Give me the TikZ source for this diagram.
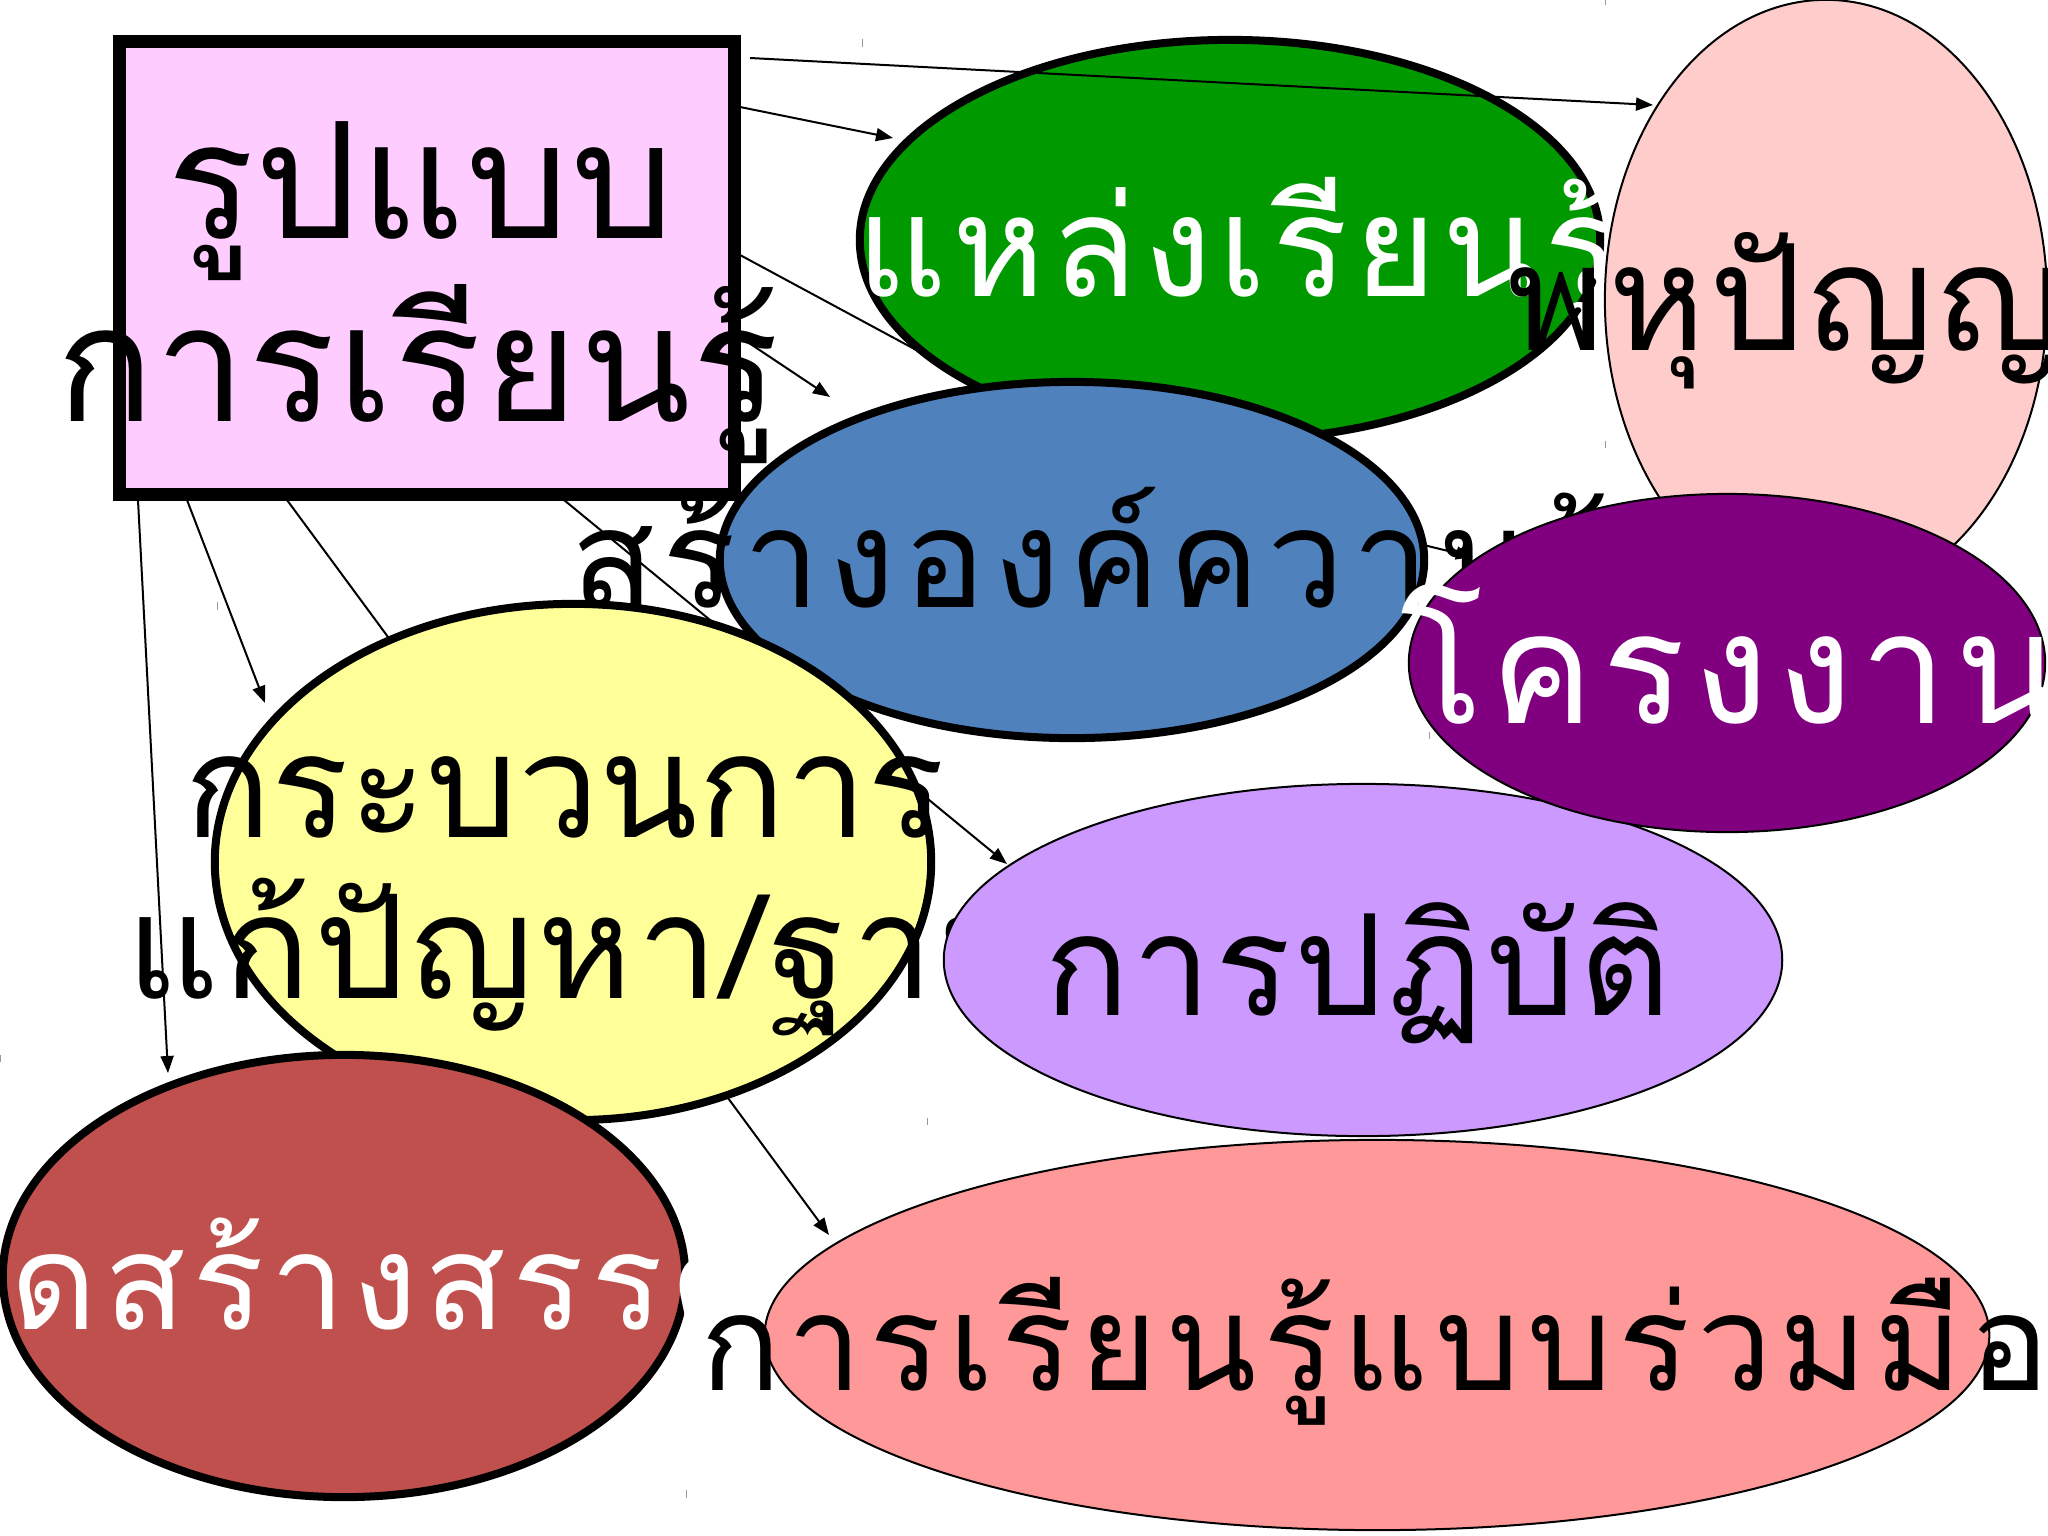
\documentclass[tikz,border=0pt]{standalone}
\usepackage{fontspec}
\usetikzlibrary{shapes.geometric,arrows.meta}
\newfontfamily\thai[Script=Thai]{Loma}
\newcommand\TF[2]{\thai\addfontfeatures{LetterSpace=#2}\fontsize{#1pt}{#1pt}\selectfont}
\definecolor{cRect}{HTML}{FFCCFF}
\definecolor{cGreen}{HTML}{009900}
\definecolor{cPinkL}{HTML}{FFCCCC}
\definecolor{cBlue}{HTML}{4F81BD}
\definecolor{cPurple}{HTML}{800080}
\definecolor{cYellow}{HTML}{FFFF99}
\definecolor{cBrown}{HTML}{C0504D}
\definecolor{cLav}{HTML}{CC99FF}
\definecolor{cSalmon}{HTML}{FF9999}
\tikzset{
  thickell/.style={ellipse, draw=black, line width=0.08cm, inner sep=0pt},
  thinell/.style={ellipse, draw=black, line width=0.02cm, inner sep=0pt},
  conn/.style={draw=black, line width=0.02cm, -{Triangle[length=0.17cm,width=0.13cm]}},
  connplain/.style={draw=black, line width=0.02cm},
  txt/.style={inner sep=0pt, outer sep=0pt},
  tick/.style={draw=black!40, line width=0.01cm}
}
\begin{document}
\begin{tikzpicture}[x=0.01cm,y=-0.01cm]
\useasboundingbox (0,0) rectangle (2048,1536);
\clip (0,0) rectangle (2048,1536);
\fill[white] (0,0) rectangle (2048,1536);
% connector end points
\coordinate (c1s) at (750,58);   \coordinate (c1e) at (1653,105);
\coordinate (c2s) at (740,107);  \coordinate (c2e) at (893,138);
\coordinate (c3s) at (740,255);  \coordinate (c3e) at (1100,449);
\coordinate (c4s) at (740,337);  \coordinate (c4e) at (830,397);
\coordinate (c5s) at (564,500);  \coordinate (c5e) at (1007,864);
\coordinate (c6s) at (287,500);  \coordinate (c6e) at (829,1235);
\coordinate (c7s) at (138,500);  \coordinate (c7e) at (168,1073);
\coordinate (c8s) at (187,500);  \coordinate (c8e) at (265,703);
\coordinate (c9s) at (1300,515); \coordinate (c9e) at (1473,557);
% connectors lying under the shapes
\draw[conn] (c2s) -- (c2e);
\draw[connplain] (c3s) -- (c3e);
\draw[conn] (c4s) -- (c4e);
\draw[conn] (c5s) -- (c5e);
\draw[conn] (c6s) -- (c6e);
\draw[conn] (c7s) -- (c7e);
\draw[conn] (c8s) -- (c8e);
\draw[conn] (c9s) -- (c9e);
% main box
\node[draw=black, fill=cRect, line width=0.13cm, inner sep=0pt,
      minimum width=6.14cm, minimum height=4.52cm] (model) at (427,268) {};
\node[txt, font=\TF{46}{1.2}, anchor=base west] (tModelA) at (167,238) {รูปแบบ};
\node[txt, font=\TF{46}{1.2}, anchor=base west] (tModelB) at (56,421) {การเรียนรู้};
% green
\node[thickell, fill=cGreen, minimum width=7.4cm, minimum height=4cm] (green) at (1230,240) {};
\node[txt, font=\TF{40}{4.3}, text=white, anchor=base west] (tGreen) at (856,296) {แหล่งเรียนรู้};
\draw[conn] (c1s) -- (c1e);
% light pink
\node[thinell, fill=cPinkL, minimum width=4.42cm, minimum height=6cm] (pinkl) at (1826,300) {};
\node[txt, font=\TF{42}{2.7}, anchor=base west] (tPinkL) at (1507,350) {พหุปัญญา};
% blue
\node[thickell, fill=cBlue, minimum width=7.04cm, minimum height=3.56cm] (blue) at (1072,560) {};
\node[txt, font=\TF{39}{5.7}, anchor=base west] (tBlue) at (571,607) {สร้างองค์ความรู้};
% yellow
\node[thickell, fill=cYellow, minimum width=7.16cm, minimum height=5.16cm] (yellow) at (573,862) {};
\node[txt, font=\TF{41}{0.2}, anchor=base west] (tYellowA) at (184,837) {กระบวนการ};
\node[txt, font=\TF{41}{3}, anchor=base west] (tYellowB) at (126,998) {แก้ปัญหา/ฐาน};
% lavender
\node[thinell, fill=cLav, minimum width=8.38cm, minimum height=3.52cm] (lav) at (1363,960) {};
\node[txt, font=\TF{40}{2.7}, anchor=base west] (tLav) at (1044,1015) {การปฏิบัติ};
% purple
\node[thinell, fill=cPurple, minimum width=6.36cm, minimum height=3.38cm] (purple) at (1727,663) {};
\node[txt, font=\TF{44}{5.2}, text=white, anchor=base west] (tPurple) at (1400,723) {โครงงาน};
% brown
\node[thickell, fill=cBrown, minimum width=6.82cm, minimum height=4.42cm] (brown) at (344,1276) {};
\node[txt, font=\TF{38}{5}, text=white, anchor=base] (tBrown) at (337,1329) {คิดสร้างสรรค์};
% salmon
\node[thinell, fill=cSalmon, minimum width=12.24cm, minimum height=3.9cm] (salmon) at (1377,1335) {};
\node[txt, font=\TF{38}{5.2}, anchor=base west] (tSalmon) at (700,1390) {การเรียนรู้แบบร่วมมือ};
% small marks
\draw[tick] (862,39) -- (862,47);
\draw[tick] (217,602) -- (217,610);
\draw[tick] (1605,0) -- (1605,5);
\draw[tick] (1605,441) -- (1605,448);
\draw[tick] (1429,732) -- (1429,739);
\draw[tick] (1,1055) -- (1,1062);
\draw[tick] (927,1118) -- (927,1125);
\draw[tick] (686,1490) -- (686,1498);
\end{tikzpicture}
\end{document}
